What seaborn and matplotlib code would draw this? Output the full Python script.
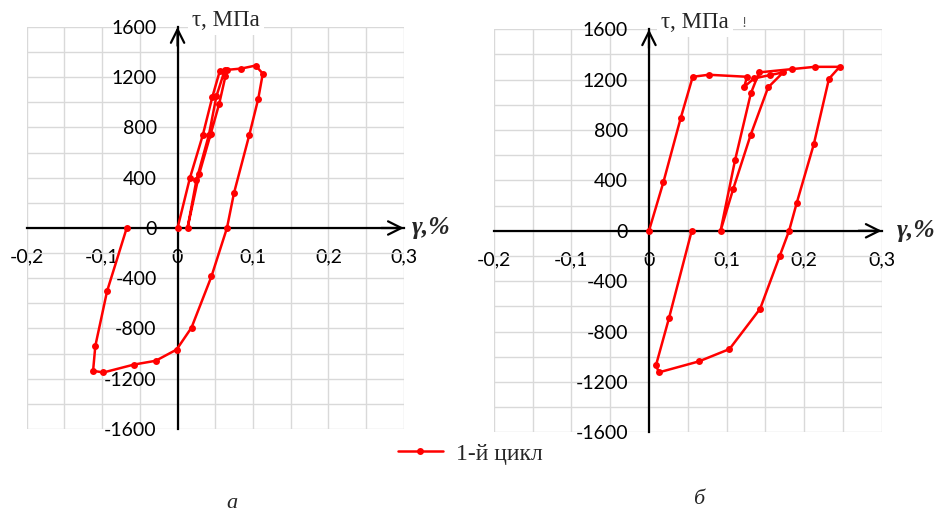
import matplotlib
matplotlib.use("Agg")
import matplotlib.pyplot as plt
import numpy as np
import pandas as pd
import seaborn as sns

# Panel (а): shear strain γ, % and shear stress τ, MPa, in loading order
gamma_a = [0.0, 0.0162, 0.0334, 0.0462, 0.0559, 0.0625,
           0.0515, 0.0415, 0.025, 0.0132,
           0.0286, 0.044, 0.055, 0.0634, 0.066, 0.0845, 0.1034, 0.113,
           0.107, 0.095, 0.0748, 0.0655, 0.0449, 0.0185, -0.0013,
           -0.029, -0.0577, -0.0983, -0.112, -0.109, -0.0934, -0.0674]
tau_a = [0, 394, 738, 1045, 1248, 1256,
         1049, 740, 381, 0,
         428, 750, 984, 1206, 1259, 1269, 1293, 1229,
         1029, 738, 278, 0, -386, -793, -968,
         -1057, -1087, -1150, -1137, -938, -502, 0]

# Panel (б)
gamma_b = [0.0, 0.0185, 0.041, 0.0564, 0.077, 0.1265, 0.1227,
           0.1355, 0.1557, 0.173,
           0.1536, 0.131, 0.1085, 0.0923,
           0.111, 0.1313, 0.142, 0.1844, 0.2136, 0.2458,
           0.232, 0.2124, 0.1905, 0.1806, 0.1686, 0.1433, 0.1038, 0.0644,
           0.0129, 0.009, 0.0257, 0.0551]
tau_b = [0, 384, 897, 1223, 1239, 1223, 1143,
         1210, 1236, 1258,
         1139, 760, 331, 0,
         562, 1091, 1258, 1284, 1302, 1302,
         1207, 686, 222, 0, -199, -619, -939, -1037,
         -1124, -1069, -696, 0]

x_ticks = [-0.2, -0.1, 0.0, 0.1, 0.2, 0.3]
x_tick_labels = ["-0,2", "-0,1", "0", "0,1", "0,2", "0,3"]
y_ticks = [-1600, -1200, -800, -400, 0, 400, 800, 1200, 1600]
y_tick_labels = ["-1600", "-1200", "-800", "-400", "0", "400", "800", "1200", "1600"]

series_label = "1-й цикл"
x_label = "γ,%"
y_label = "τ, МПа"
panel_letters = ["а", "б"]

RED = "#ff0000"
GRID = "#d9d9d9"
SERIF = "Liberation Serif"

sns.set_theme(style="white")
plt.rcParams["font.family"] = ["Lato", "DejaVu Sans"]

fig = plt.figure(figsize=(9.37, 5.15), dpi=100)
fig.patch.set_facecolor("white")
ax_a = fig.add_axes([0.0285, 0.167, 0.4025, 0.7806])
ax_b = fig.add_axes([0.527, 0.1606, 0.414, 0.7825])


def draw_panel(ax, gamma, tau, xlab_x, ylab_x):
    df = pd.DataFrame({"gamma": gamma, "tau": tau})
    sns.lineplot(data=df, x="gamma", y="tau", sort=False, estimator=None,
                 marker="o", color=RED, lw=1.8, markersize=5,
                 markeredgewidth=0, ax=ax, legend=False, zorder=5)
    ax.set_xlim(-0.2, 0.3)
    ax.set_ylim(-1600, 1600)
    ax.set_xlabel("")
    ax.set_ylabel("")
    ax.set_facecolor("white")

    ax.set_xticks(x_ticks)
    ax.set_xticklabels(x_tick_labels)
    ax.set_yticks(y_ticks)
    ax.set_yticklabels(y_tick_labels)
    ax.set_xticks(np.arange(-0.2, 0.301, 0.05), minor=True)
    ax.set_yticks(np.arange(-1600, 1601, 200), minor=True)
    ax.grid(True, which="both", color=GRID, lw=1.0)
    ax.set_axisbelow(True)

    for side in ("top", "right"):
        ax.spines[side].set_visible(False)
    for side in ("left", "bottom"):
        ax.spines[side].set_position(("data", 0))
        ax.spines[side].set_color("black")
        ax.spines[side].set_linewidth(1.6)
        ax.spines[side].set_zorder(3)

    ax.tick_params(which="major", direction="in", length=4.5, width=1.6,
                   color="black", pad=15, labelsize=14, labelcolor="black")
    ax.tick_params(which="minor", length=0)

    arrow = dict(arrowstyle="->,head_length=0.8,head_width=0.4", lw=1.6,
                 color="black", shrinkA=0, shrinkB=0)
    ax.annotate("", xy=(0.3, 0), xytext=(0.27, 0), arrowprops=arrow,
                annotation_clip=False, zorder=4)
    ax.annotate("", xy=(0, 1600), xytext=(0, 1450), arrowprops=arrow,
                annotation_clip=False, zorder=4)

    ax.text(xlab_x, 0, x_label, ha="left", va="center", fontsize=18.5,
            family=SERIF, style="italic", weight="bold", clip_on=False)
    ax.text(ylab_x, 1655, y_label, ha="left", va="center", fontsize=16.5,
            family=SERIF, clip_on=False,
            bbox=dict(facecolor="white", edgecolor="none", pad=3))


draw_panel(ax_a, gamma_a, tau_a, 0.311, 0.019)
draw_panel(ax_b, gamma_b, tau_b, 0.32, 0.0154)
ax_b.text(0.119, 1650, "!", ha="left", va="center", fontsize=11,
          family=SERIF, color="#555555", clip_on=False)

handle = ax_a.get_lines()[0]
fig.legend([handle], [series_label], loc="center left",
           bbox_to_anchor=(398 / 937, 1 - 454 / 515), frameon=False,
           prop=dict(family=SERIF, size=17), handlelength=1.9,
           handletextpad=0.55, borderpad=0, borderaxespad=0)

fig.text(232 / 937, 1 - 503 / 515, panel_letters[0], ha="center", va="center",
         fontsize=16, family=SERIF, style="italic")
fig.text(699 / 937, 1 - 500 / 515, panel_letters[1], ha="center", va="center",
         fontsize=16, family=SERIF, style="italic")

fig.savefig("out.png", dpi=100, facecolor="white")
